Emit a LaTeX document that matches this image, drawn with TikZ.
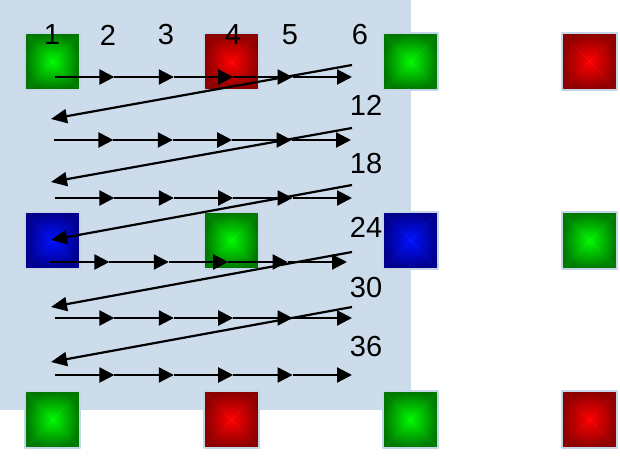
\documentclass[tikz,border=0pt]{standalone}
\usepackage{fontspec}
\setmainfont{Liberation Sans}
\usetikzlibrary{arrows.meta}
\definecolor{scanback}{HTML}{CCDCEB}
\definecolor{tileedge}{HTML}{C6D6E8}
\definecolor{greenlight}{HTML}{00FA00}
\definecolor{greendark}{HTML}{007400}
\definecolor{redlight}{HTML}{FF0000}
\definecolor{reddark}{HTML}{880000}
\definecolor{bluelight}{HTML}{0010FF}
\definecolor{bluedark}{HTML}{000088}

\begin{document}
\begin{tikzpicture}[
  x=0.5pt,
  y=-0.5pt,
  line join=round,
  tile/.style={draw=tileedge,line width=1pt,minimum width=27.5pt,minimum height=28.5pt,inner sep=0pt,
    path picture={
      \coordinate (m) at (path picture bounding box.center);
      \shade[top color=#1dark,bottom color=#1light] (path picture bounding box.north west) -- (path picture bounding box.north east) -- (m) -- cycle;
      \shade[top color=#1light,bottom color=#1dark] (path picture bounding box.south west) -- (path picture bounding box.south east) -- (m) -- cycle;
      \shade[left color=#1dark,right color=#1light] (path picture bounding box.north west) -- (path picture bounding box.south west) -- (m) -- cycle;
      \shade[left color=#1light,right color=#1dark] (path picture bounding box.north east) -- (path picture bounding box.south east) -- (m) -- cycle;
      \shade[inner color=#1light,outer color=#1dark,opacity=0.55] (path picture bounding box.north west) rectangle (path picture bounding box.south east);
    }},
  num/.style={font=\fontsize{14.5}{17}\selectfont,inner sep=0pt},
  scanstep/.style={line width=1.1pt,-{Triangle[length=7.5pt,width=7.5pt]}},
  flyback/.style={line width=1.1pt,-{Triangle[length=8pt,width=7pt]}}
]
  \useasboundingbox (0,0) rectangle (620,465);

  % Scanned region.
  \fill[scanback] (0,0) rectangle (411,410);

  % Colour tiles on a regular grid.
  \foreach \k/\i/\j in {green/0/0,red/1/0,green/2/0,red/3/0,
                        blue/0/1,green/1/1,blue/2/1,green/3/1,
                        green/0/2,red/1/2,green/2/2,red/3/2} {
    \node[tile=\k] (t\i\j) at (52.5+179*\i,61.5+179*\j) {};
  }

  % Pixel counts along the scan.
  \foreach \t/\x in {1/52,2/108,3/166,4/233,5/290,6/360} {
    \node[num] (n\t) at (\x,35) {\t};
  }
  \foreach \t/\y in {12/105,18/164,24/227,30/288,36/347} {
    \node[num] (n\t) at (366,\y) {\t};
  }

  % Scan lines, five steps each.
  \foreach \r/\y/\xs in {1/77/55,2/140/54,3/198/55,4/262/50,5/318/55,6/375/55} {
    \foreach \k in {0,...,5} {
      \coordinate (p\r-\k) at (\xs+59.4*\k,\y);
    }
    \foreach \k [remember=\k as \m (initially 0)] in {1,...,5} {
      \draw[scanstep] (p\r-\m) -- (p\r-\k);
    }
  }

  % Fly-back from the end of a line to the start of the next.
  \foreach \r/\ya/\yb in {1/65/119,2/128/182,3/185/240,4/252/307,5/307/362} {
    \coordinate (fa\r) at (352,\ya);
    \coordinate (fb\r) at (51,\yb);
    \draw[flyback] (fa\r) -- (fb\r);
  }
\end{tikzpicture}
\end{document}
